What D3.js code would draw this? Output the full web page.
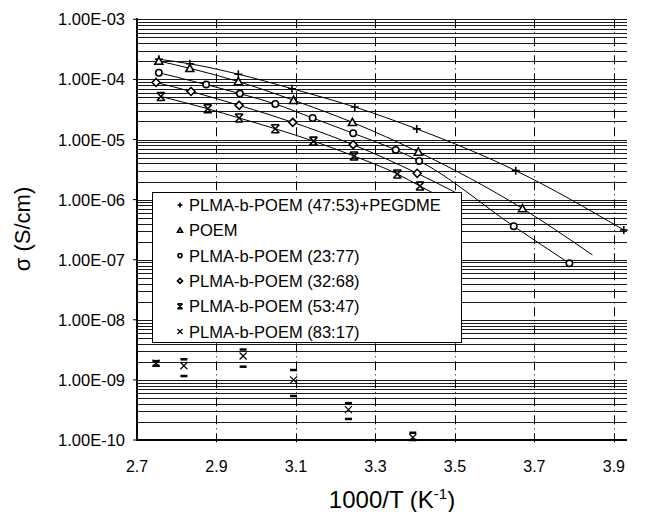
<!DOCTYPE html>
<html><head><meta charset="utf-8">
<script src="https://cdn.jsdelivr.net/npm/d3@7"></script>
<style>body{margin:0;background:#fff}svg{display:block}text{font-family:"Liberation Sans",Arial,sans-serif;fill:#000}</style>
</head><body><svg id="c" width="645" height="512"></svg>
<script>
// ---- data ----
const seriesNames = ["PLMA-b-POEM (47:53)+PEGDME","POEM","PLMA-b-POEM (23:77)","PLMA-b-POEM (32:68)","PLMA-b-POEM (53:47)","PLMA-b-POEM (83:17)"];
const seriesMarkers = ["plus","triangle","circle","diamond","star","cross"];
const xPEG = [2.755, 2.833, 2.955, 3.09, 3.248, 3.404, 3.653, 3.925];
const yPEG = [2.16e-4, 1.82e-4, 1.22e-4, 7.0e-5, 3.47e-5, 1.5e-5, 3.03e-6, 3.12e-7];
const xPOEM = [2.755, 2.833, 2.955, 3.094, 3.242, 3.408, 3.67];
const yPOEM = [2.02e-4, 1.53e-4, 9.2e-5, 4.5e-5, 1.93e-5, 6.2e-6, 7.1e-7];
const x2377 = [2.755, 2.874, 2.959, 3.048, 3.142, 3.244, 3.351, 3.41, 3.648, 3.788];
const y2377 = [1.29e-4, 8.2e-5, 5.8e-5, 3.9e-5, 2.28e-5, 1.27e-5, 6.7e-6, 4.4e-6, 3.6e-7, 8.7e-8];
const x3268 = [2.748, 2.836, 2.957, 3.092, 3.244, 3.405];
const y3268 = [8.9e-5, 6.3e-5, 3.7e-5, 1.93e-5, 8.2e-6, 2.74e-6];
const x5347 = [2.76, 2.878, 2.957, 3.048, 3.144, 3.246, 3.355, 3.412];
const y5347 = [5.2e-5, 3.25e-5, 2.28e-5, 1.51e-5, 9.4e-6, 5.3e-6, 2.67e-6, 1.68e-6];
const x8317 = [2.748, 2.818, 2.967, 3.094, 3.232, 3.394];
const y8317 = [1.89e-9, 1.72e-9, 2.5e-9, 1.0e-9, 3.2e-10, 1.1e-10];
const hi8317 = [2.05e-9, 2.2e-9, 3.2e-9, 1.46e-9, 4.1e-10, 1.32e-10];
const lo8317 = [1.72e-9, 1.16e-9, 1.66e-9, 5.4e-10, 2.24e-10, 1.0e-10];
// fitted-line end points beyond the last marker (null = ends at last marker)
const fitEndX = [null, 3.846, null, 3.5, 3.47];
const fitEndY = [null, 1.2e-7, null, 1.33e-6, 1.05e-6];
const xTicks = [2.7, 2.9, 3.1, 3.3, 3.5, 3.7, 3.9];
const yTicks = [1e-3, 1e-4, 1e-5, 1e-6, 1e-7, 1e-8, 1e-9, 1e-10];
const yTickLabels = ["1.00E-03","1.00E-04","1.00E-05","1.00E-06","1.00E-07","1.00E-08","1.00E-09","1.00E-10"];

const svg = d3.select("#c");
const L = 137, R = 627, T = 19.3, B = 440;
const x = d3.scaleLinear().domain([2.7, 3.933]).range([L, R]);
const y = d3.scaleLog().domain([1e-10, 1e-3]).range([B, T]);

// horizontal minor/major gridlines
const hLines = [];
for (let e = -10; e < -3; e++) for (let n = 1; n <= 9; n++) hLines.push(n * Math.pow(10, e));
hLines.push(1e-3);
svg.append("g").selectAll("line").data(hLines).join("line")
  .attr("x1", L).attr("x2", R).attr("y1", d => Math.round(y(d)) + 0.5).attr("y2", d => Math.round(y(d)) + 0.5)
  .attr("stroke", "#1a1a1a").attr("stroke-width", 1);

// vertical dash-dot gridlines
svg.append("g").selectAll("line").data(xTicks.slice(1)).join("line")
  .attr("x1", d => Math.round(x(d)) + 0.5).attr("x2", d => Math.round(x(d)) + 0.5)
  .attr("y1", T).attr("y2", B + 4)
  .attr("stroke", "#000").attr("stroke-width", 1).attr("stroke-dasharray", "9,4,1,4");

// axes
svg.append("line").attr("x1", L).attr("x2", L).attr("y1", T - 1).attr("y2", B + 1).attr("stroke", "#000").attr("stroke-width", 2);
svg.append("line").attr("x1", L - 1).attr("x2", R).attr("y1", B).attr("y2", B).attr("stroke", "#000").attr("stroke-width", 2);
svg.append("g").selectAll("line").data(yTicks).join("line")
  .attr("x1", L - 4).attr("x2", L).attr("y1", d => y(d)).attr("y2", d => y(d)).attr("stroke", "#000");
svg.append("g").selectAll("text").data(yTicks).join("text")
  .attr("x", 125).attr("y", d => y(d) + 6).attr("text-anchor", "end").attr("font-size", 16.5)
  .text((d, i) => yTickLabels[i]);
svg.append("g").selectAll("text").data(xTicks).join("text")
  .attr("x", d => x(d)).attr("y", 472).attr("text-anchor", "middle").attr("font-size", 16)
  .text(d => d.toFixed(1));

// axis titles
const xt = svg.append("text").attr("x", 392).attr("y", 508).attr("text-anchor", "middle").attr("font-size", 24);
xt.append("tspan").text("1000/T (K");
xt.append("tspan").attr("dy", -9).attr("font-size", 15).text("-1");
xt.append("tspan").attr("dy", 9).text(")");
svg.append("text").attr("transform", "translate(30,229) rotate(-90)").attr("text-anchor", "middle").attr("font-size", 22).text("σ (S/cm)");

// fitted lines
const xs = [xPEG, xPOEM, x2377, x3268, x5347];
const ys = [yPEG, yPOEM, y2377, y3268, y5347];
const lineGen = d3.line().x(d => x(d[0])).y(d => y(d[1])).curve(d3.curveMonotoneX);
xs.forEach((xv, i) => {
  const pts = xv.map((v, j) => [v, ys[i][j]]);
  if (fitEndX[i] !== null) pts.push([fitEndX[i], fitEndY[i]]);
  svg.append("path").attr("d", lineGen(pts)).attr("fill", "none").attr("stroke", "#000").attr("stroke-width", 1);
});

// marker drawing
function marker(g, type, cx, cy, s) {
  const sw = 1.6;
  if (type === "plus") {
    g.append("path").attr("d", `M${cx - s},${cy}H${cx + s}M${cx},${cy - s}V${cy + s}`).attr("stroke", "#000").attr("stroke-width", sw);
  } else if (type === "triangle") {
    g.append("path").attr("d", `M${cx},${cy - s}L${cx + s},${cy + s * 0.8}L${cx - s},${cy + s * 0.8}Z`).attr("fill", "#fff").attr("stroke", "#000").attr("stroke-width", sw);
  } else if (type === "circle") {
    g.append("circle").attr("cx", cx).attr("cy", cy).attr("r", s * 0.8).attr("fill", "#fff").attr("stroke", "#000").attr("stroke-width", sw);
  } else if (type === "diamond") {
    g.append("path").attr("d", `M${cx},${cy - s}L${cx + s},${cy}L${cx},${cy + s}L${cx - s},${cy}Z`).attr("fill", "#fff").attr("stroke", "#000").attr("stroke-width", sw);
  } else if (type === "star") {
    g.append("path").attr("d", `M${cx - s},${cy - s}L${cx + s},${cy + s}M${cx + s},${cy - s}L${cx - s},${cy + s}M${cx - s},${cy - s}H${cx + s}M${cx - s},${cy + s}H${cx + s}`).attr("stroke", "#000").attr("stroke-width", sw);
  } else if (type === "cross") {
    g.append("path").attr("d", `M${cx - s},${cy - s}L${cx + s},${cy + s}M${cx + s},${cy - s}L${cx - s},${cy + s}`).attr("stroke", "#000").attr("stroke-width", 1.2);
  }
}
const mg = svg.append("g");
xs.forEach((xv, i) => xv.forEach((v, j) => marker(mg, seriesMarkers[i], x(v), y(ys[i][j]), 4)));

// 83:17 series with error-bar caps
x8317.forEach((v, j) => {
  marker(mg, "cross", x(v), y(y8317[j]), 3.5);
  [hi8317[j], lo8317[j]].forEach(b => {
    mg.append("line").attr("x1", x(v) - 3.5).attr("x2", x(v) + 3.5).attr("y1", y(b)).attr("y2", y(b))
      .attr("stroke", "#000").attr("stroke-width", 2.5);
  });
});

// legend
const lg = svg.append("g");
lg.append("rect").attr("x", 152.5).attr("y", 192.5).attr("width", 309).attr("height", 150).attr("fill", "#fff").attr("stroke", "#000").attr("stroke-width", 1);
seriesNames.forEach((name, i) => {
  const cy = 205 + i * 25.3;
  marker(lg, seriesMarkers[i], 180, cy, 2.5);
  lg.append("text").attr("x", 189).attr("y", cy + 6).attr("font-size", 16.5).text(name);
});
</script></body></html>
